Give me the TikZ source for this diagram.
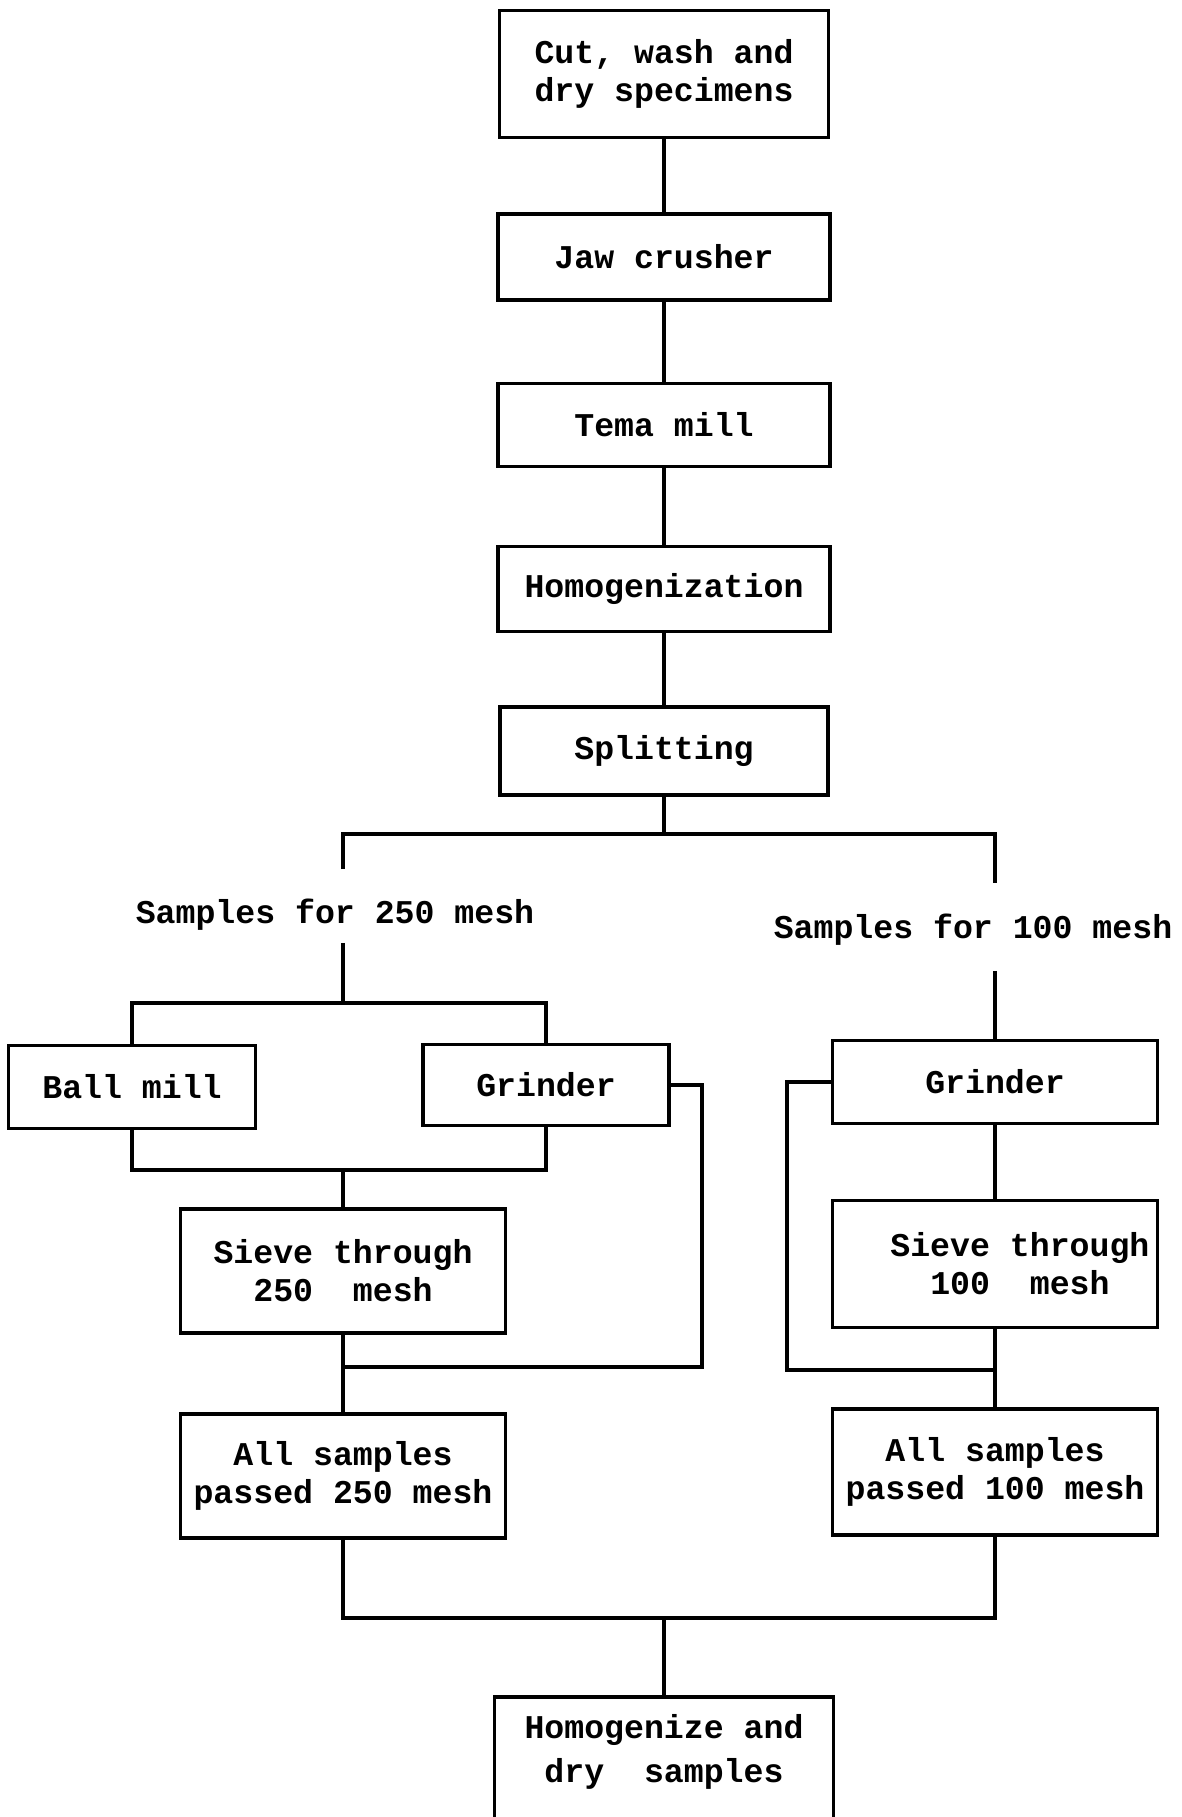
\documentclass[tikz,border=0pt]{standalone}
\usepackage{fontspec}
\setmonofont{Liberation Mono}
\usetikzlibrary{
	calc,
	positioning,
	}
\tikzset{
	stage/.style={draw, line width=1.8pt, align=center, inner sep=0pt,
		font=\ttfamily\bfseries\fontsize{16.6}{19}\selectfont},
	lbl/.style={align=center, inner sep=0pt, anchor=base,
		font=\ttfamily\bfseries\fontsize{16.6}{19}\selectfont},
}
\begin{document}
\begin{tikzpicture}[x=0.5pt, y=-0.5pt, line width=1.8pt]
		\useasboundingbox (0,0) rectangle (1182,1817);
		\node[stage, minimum width=164.5pt, minimum height=63.5pt] (cut) at (664,74) {Cut, wash and\\dry specimens};
		\node[stage, minimum width=166pt, minimum height=43pt] (jaw) at (664,257) {Jaw crusher};
		\node[stage, minimum width=166pt, minimum height=41.5pt] (tema) at (664,425) {Tema mill};
		\node[stage, minimum width=166pt, minimum height=42.5pt] (homog) at (664,589) {Homogenization};
		\node[stage, minimum width=164pt, minimum height=44pt] (split) at (664,751) {Splitting};
		\node[lbl, text height=26pt, text depth=9pt] (s250) at (335,923) {Samples for 250 mesh};
		\node[lbl, text height=26.5pt, text depth=15.5pt] (s100) at (973,938) {Samples for 100 mesh};
		\node[stage, minimum width=123.5pt, minimum height=41.5pt] (ball) at (132,1087) {Ball mill};
		\node[stage, minimum width=123pt, minimum height=40.5pt] (grindA) at (546,1085) {Grinder};
		\node[stage, minimum width=162.5pt, minimum height=62pt] (sieveA) at (343,1271) {Sieve through\\250~~mesh};
		\node[stage, minimum width=162.5pt, minimum height=62pt] (passA) at (343,1476) {All samples\\passed 250 mesh};
		\node[stage, minimum width=162.5pt, minimum height=41.5pt] (grindB) at (995,1082) {Grinder};
		\node[stage, align=left, minimum width=162.5pt, minimum height=63.5pt] (sieveB) at (995,1264) {\hspace*{1.5em}Sieve through\\\hspace*{1.5em}~~100~~mesh};
		\node[stage, minimum width=162.5pt, minimum height=63pt] (passB) at (995,1472) {All samples\\passed 100 mesh};
		\node[stage, anchor=north, minimum width=169.5pt, inner ysep=9pt, text depth=70pt,
			font=\ttfamily\bfseries\fontsize{16.6}{22}\selectfont] (final) at (664,1695) {Homogenize and\\dry~~samples};
		\coordinate (fork) at (664,834);
		\coordinate (splitA) at (343,1003);
		\coordinate (joinA) at (343,1170);
		\coordinate (loopA) at (702,1367);
		\coordinate (loopB) at (787,1370);
		\coordinate (merge) at (664,1618);
		\draw[-] (cut) -- (jaw);
		\draw[-] (jaw) -- (tema);
		\draw[-] (tema) -- (homog);
		\draw[-] (homog) -- (split);
		\draw[-] (split) -- (fork);
		\draw[-] (sieveA |- s250.north) |- (fork) -| (grindB |- s100.north);
		\draw[-] (splitA |- s250.south) -- (splitA);
		\draw[-] (ball.north) |- (splitA) -| (grindA.north);
		\draw[-] (ball.south) |- (joinA) -| (grindA.south);
		\draw[-] (joinA) -- (sieveA);
		\draw[-] (sieveA) -- (passA);
		\draw[-] (grindA.east) -| (loopA) -- (loopA -| sieveA);
		\draw[-] (grindB |- s100.south) -- (grindB);
		\draw[-] (grindB) -- (sieveB);
		\draw[-] (sieveB) -- (passB);
		\draw[-] (grindB.west) -| (loopB) -- (loopB -| sieveB);
		\draw[-] (passA) |- (merge) -| (passB);
		\draw[-] (merge) -- (final);
	\end{tikzpicture}
\end{document}
